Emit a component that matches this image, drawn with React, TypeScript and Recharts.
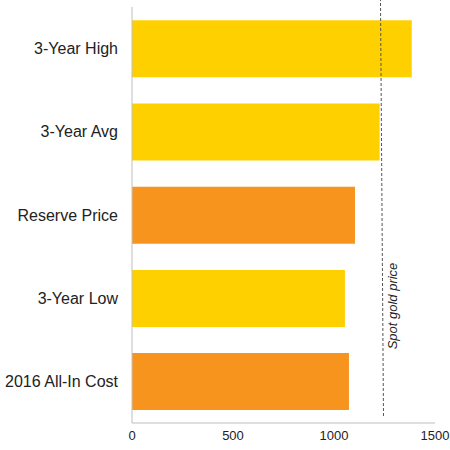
import { BarChart, Bar, XAxis, YAxis, Cell, ReferenceLine } from 'recharts';

// gold price benchmarks (USD/oz)
const CATEGORIES = ['3-Year High', '3-Year Avg', 'Reserve Price', '3-Year Low', '2016 All-In Cost'];
const VALUES = [1385, 1226, 1104, 1054, 1074];
const COLORS = ['#FFD000', '#FFD000', '#F7941E', '#FFD000', '#F7941E'];
const X_TICKS = [0, 500, 1000, 1500];
const SPOT_PRICE = 1240;

const data = CATEGORIES.map((name, i) => ({ name, value: VALUES[i] }));

const SpotLine = (props: any) => {
    const { x1, y1, x2, y2 } = props;
    return (
        <line
            x1={x1 + 1}
            y1={y1 - 7}
            x2={x2 - 2}
            y2={y2 - 10}
            stroke="#555"
            strokeWidth={1}
            strokeDasharray="3 2"
        />
    );
};

const SpotLabel = (props: any) => {
    const x = props.viewBox.x + 10;
    const y = 306;
    return (
        <text
            x={x}
            y={y}
            transform={`rotate(-90, ${x}, ${y})`}
            textAnchor="middle"
            dominantBaseline="central"
            fontSize={13}
            fontStyle="italic"
            fill="#222"
        >
            Spot gold price
        </text>
    );
};

export default function App() {
    return (
        <div style={{ position: 'absolute', left: 0, top: 0, fontFamily: 'Arial, "Liberation Sans", sans-serif' }}>
            <BarChart
                width={450}
                height={450}
                data={data}
                layout="vertical"
                margin={{ top: 7, right: 15, bottom: 7, left: 0 }}
                barCategoryGap="16%"
            >
                <XAxis
                    type="number"
                    domain={[0, 1500]}
                    ticks={X_TICKS}
                    height={20}
                    tickLine={false}
                    axisLine={{ stroke: '#bfbfbf' }}
                    tick={{ fill: '#222', fontSize: 13 }}
                    interval={0}
                />
                <YAxis
                    type="category"
                    dataKey="name"
                    width={132}
                    tickLine={false}
                    tickMargin={8}
                    axisLine={{ stroke: '#bfbfbf' }}
                    tick={{ fill: '#222', fontSize: 16 }}
                    interval={0}
                />
                <Bar dataKey="value" isAnimationActive={false}>
                    {data.map((d, i) => (
                        <Cell key={d.name} fill={COLORS[i]} />
                    ))}
                </Bar>
                <ReferenceLine x={SPOT_PRICE} shape={SpotLine} label={SpotLabel} ifOverflow="visible" />
            </BarChart>
        </div>
    );
}
